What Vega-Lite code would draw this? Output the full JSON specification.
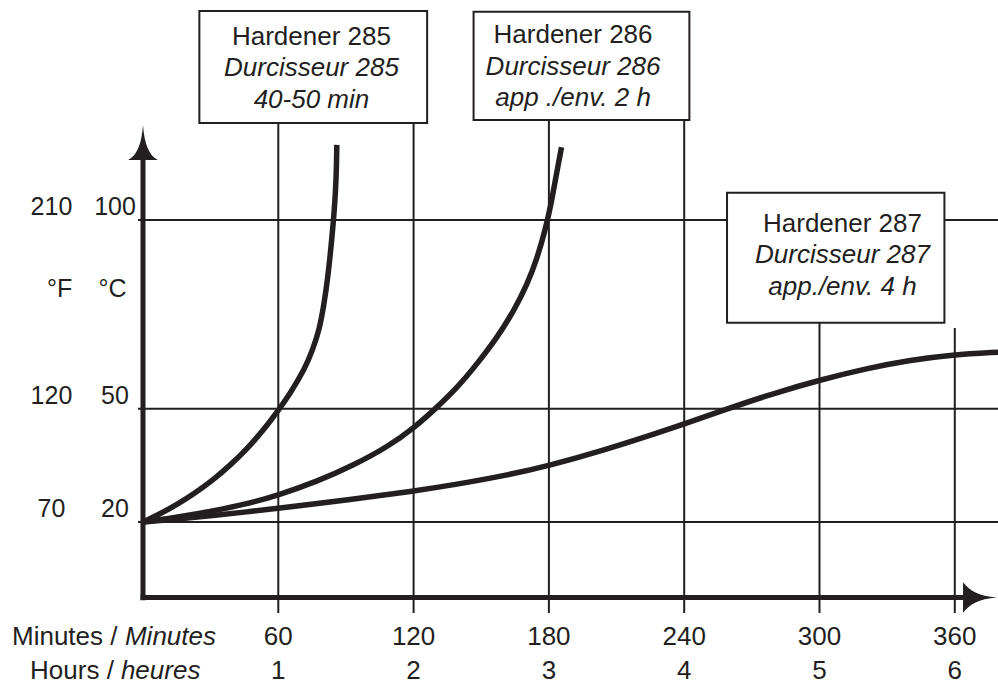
{
  "$schema": "https://vega.github.io/schema/vega-lite/v6.json",
  "width": 998,
  "height": 686,
  "padding": 0,
  "autosize": {"type": "none"},
  "background": "#ffffff",
  "config": {
    "view": {"stroke": null},
    "text": {"font": "Liberation Sans", "fontSize": 26, "fill": "#231f20"}
  },
  "datasets": {
    "curves": [
      {"hardener": "285", "minutes": 0, "temp": 20},
      {"hardener": "285", "minutes": 7.7, "temp": 22.2},
      {"hardener": "285", "minutes": 15.4, "temp": 24.7},
      {"hardener": "285", "minutes": 23.1, "temp": 27.7},
      {"hardener": "285", "minutes": 30.8, "temp": 31.0},
      {"hardener": "285", "minutes": 38.4, "temp": 34.9},
      {"hardener": "285", "minutes": 46.2, "temp": 39.4},
      {"hardener": "285", "minutes": 53.9, "temp": 44.7},
      {"hardener": "285", "minutes": 60, "temp": 49.6},
      {"hardener": "285", "minutes": 64.8, "temp": 53.6},
      {"hardener": "285", "minutes": 71.9, "temp": 60.7},
      {"hardener": "285", "minutes": 75.2, "temp": 65.6},
      {"hardener": "285", "minutes": 78.2, "temp": 70.9},
      {"hardener": "285", "minutes": 80.2, "temp": 77.5},
      {"hardener": "285", "minutes": 81.9, "temp": 84.1},
      {"hardener": "285", "minutes": 84.6, "temp": 100.0},
      {"hardener": "285", "minutes": 85.7, "temp": 110.6},
      {"hardener": "285", "minutes": 85.95, "temp": 119.9},
      {"hardener": "286", "minutes": 0, "temp": 20},
      {"hardener": "286", "minutes": 15.4, "temp": 21.3},
      {"hardener": "286", "minutes": 30.8, "temp": 22.9},
      {"hardener": "286", "minutes": 46.2, "temp": 24.8},
      {"hardener": "286", "minutes": 60, "temp": 27.1},
      {"hardener": "286", "minutes": 77.5, "temp": 30.8},
      {"hardener": "286", "minutes": 93.3, "temp": 35.0},
      {"hardener": "286", "minutes": 109.0, "temp": 40.1},
      {"hardener": "286", "minutes": 120.3, "temp": 45.0},
      {"hardener": "286", "minutes": 129.7, "temp": 50.0},
      {"hardener": "286", "minutes": 139.4, "temp": 55.6},
      {"hardener": "286", "minutes": 148.2, "temp": 61.9},
      {"hardener": "286", "minutes": 157.1, "temp": 68.9},
      {"hardener": "286", "minutes": 164.4, "temp": 75.9},
      {"hardener": "286", "minutes": 170.3, "temp": 82.8},
      {"hardener": "286", "minutes": 174.7, "temp": 89.7},
      {"hardener": "286", "minutes": 178.4, "temp": 97.4},
      {"hardener": "286", "minutes": 180.9, "temp": 104.0},
      {"hardener": "286", "minutes": 182.6, "temp": 109.8},
      {"hardener": "286", "minutes": 185.6, "temp": 119.3},
      {"hardener": "287", "minutes": 0, "temp": 20},
      {"hardener": "287", "minutes": 15.4, "temp": 20.8},
      {"hardener": "287", "minutes": 30.8, "temp": 21.7},
      {"hardener": "287", "minutes": 46.2, "temp": 22.7},
      {"hardener": "287", "minutes": 60, "temp": 23.6},
      {"hardener": "287", "minutes": 90, "temp": 25.8},
      {"hardener": "287", "minutes": 120.3, "temp": 28.2},
      {"hardener": "287", "minutes": 139.4, "temp": 30.0},
      {"hardener": "287", "minutes": 161.5, "temp": 32.4},
      {"hardener": "287", "minutes": 179.8, "temp": 34.9},
      {"hardener": "287", "minutes": 203.8, "temp": 38.9},
      {"hardener": "287", "minutes": 229.2, "temp": 43.8},
      {"hardener": "287", "minutes": 240.2, "temp": 46.0},
      {"hardener": "287", "minutes": 257.8, "temp": 49.7},
      {"hardener": "287", "minutes": 279.7, "temp": 54.1},
      {"hardener": "287", "minutes": 300.6, "temp": 57.7},
      {"hardener": "287", "minutes": 322.0, "temp": 60.8},
      {"hardener": "287", "minutes": 339.2, "temp": 62.8},
      {"hardener": "287", "minutes": 358.9, "temp": 64.3},
      {"hardener": "287", "minutes": 379.5, "temp": 65.0}
    ],
    "ticks": [
      {"minutes": 60, "hours": 1},
      {"minutes": 120, "hours": 2},
      {"minutes": 180, "hours": 3},
      {"minutes": 240, "hours": 4},
      {"minutes": 300, "hours": 5},
      {"minutes": 360, "hours": 6}
    ],
    "levels": [
      {"celsius": 20, "fahrenheit": 70},
      {"celsius": 50, "fahrenheit": 120},
      {"celsius": 100, "fahrenheit": 210}
    ],
    "boxes": [
      {"hardener": "285", "start": 25, "end": 126, "low": 125.7, "high": 155.36, "center": 74.7, "baseline": 146.4, "title": "Hardener 285", "name": "Durcisseur 285", "potLife": "40-50 min"},
      {"hardener": "286", "start": 146.6, "end": 242.3, "low": 126.49, "high": 155.18, "center": 190.7, "baseline": 146.8, "title": "Hardener 286", "name": "Durcisseur 286", "potLife": "app ./env. 2 h"},
      {"hardener": "287", "start": 259, "end": 355.4, "low": 72.79, "high": 107.23, "center": 310.2, "baseline": 96.9, "title": "Hardener 287", "name": "Durcisseur 287", "potLife": "app./env. 4 h"}
    ]
  },
  "layer": [
    {
      "data": {"name": "levels"},
      "mark": {"type": "rule", "stroke": "#231f20", "strokeWidth": 2},
      "encoding": {
        "y": {"field": "celsius", "type": "quantitative", "scale": {"domain": [-23.44, 158.28], "nice": false, "zero": false}, "axis": null},
        "x": {"datum": -2.2, "type": "quantitative", "scale": {"domain": [-63.41, 379.16], "nice": false, "zero": false}, "axis": null},
        "x2": {"datum": 381}
      }
    },
    {
      "data": {"name": "ticks"},
      "transform": [{"filter": "datum.minutes <= 240"}],
      "mark": {"type": "rule", "stroke": "#231f20", "strokeWidth": 2},
      "encoding": {
        "x": {"field": "minutes", "type": "quantitative", "scale": {"domain": [-63.41, 379.16], "nice": false, "zero": false}, "axis": null},
        "y": {"datum": -4.1, "type": "quantitative", "scale": {"domain": [-23.44, 158.28], "nice": false, "zero": false}, "axis": null},
        "y2": {"datum": 130}
      }
    },
    {
      "data": {"name": "ticks"},
      "transform": [{"filter": "datum.minutes == 300"}],
      "mark": {"type": "rule", "stroke": "#231f20", "strokeWidth": 2},
      "encoding": {
        "x": {"field": "minutes", "type": "quantitative", "scale": {"domain": [-63.41, 379.16], "nice": false, "zero": false}, "axis": null},
        "y": {"datum": -4.1, "type": "quantitative", "scale": {"domain": [-23.44, 158.28], "nice": false, "zero": false}, "axis": null},
        "y2": {"datum": 75}
      }
    },
    {
      "data": {"name": "ticks"},
      "transform": [{"filter": "datum.minutes == 360"}],
      "mark": {"type": "rule", "stroke": "#231f20", "strokeWidth": 2},
      "encoding": {
        "x": {"field": "minutes", "type": "quantitative", "scale": {"domain": [-63.41, 379.16], "nice": false, "zero": false}, "axis": null},
        "y": {"datum": -4.1, "type": "quantitative", "scale": {"domain": [-23.44, 158.28], "nice": false, "zero": false}, "axis": null},
        "y2": {"datum": 71.4}
      }
    },
    {
      "data": {"name": "curves"},
      "mark": {"type": "line", "stroke": "#231f20", "strokeWidth": 5.5, "interpolate": "basis", "strokeCap": "butt", "strokeJoin": "round"},
      "encoding": {
        "x": {"field": "minutes", "type": "quantitative", "scale": {"domain": [-63.41, 379.16], "nice": false, "zero": false}, "axis": null},
        "y": {"field": "temp", "type": "quantitative", "scale": {"domain": [-23.44, 158.28], "nice": false, "zero": false}, "axis": null},
        "detail": {"field": "hardener", "type": "nominal"}
      }
    },
    {
      "data": {"values": [{}]},
      "mark": {"type": "rule", "stroke": "#231f20", "strokeWidth": 5},
      "encoding": {
        "x": {"datum": 0, "type": "quantitative", "scale": {"domain": [-63.41, 379.16], "nice": false, "zero": false}, "axis": null},
        "y": {"datum": -0.7, "type": "quantitative", "scale": {"domain": [-23.44, 158.28], "nice": false, "zero": false}, "axis": null},
        "y2": {"datum": 117}
      }
    },
    {
      "data": {"values": [{}]},
      "mark": {"type": "rule", "stroke": "#231f20", "strokeWidth": 5},
      "encoding": {
        "x": {"datum": -1.1, "type": "quantitative", "scale": {"domain": [-63.41, 379.16], "nice": false, "zero": false}, "axis": null},
        "x2": {"datum": 365},
        "y": {"datum": 0, "type": "quantitative", "scale": {"domain": [-23.44, 158.28], "nice": false, "zero": false}, "axis": null}
      }
    },
    {
      "data": {"values": [{}]},
      "mark": {"type": "point", "filled": true, "fill": "#231f20", "stroke": null, "opacity": 1, "size": 1225, "shape": "M0,-1C0.08,0.1 0.35,0.75 0.85,1L-0.85,1C-0.35,0.75 -0.08,0.1 0,-1Z"},
      "encoding": {
        "x": {"datum": 0, "type": "quantitative", "scale": {"domain": [-63.41, 379.16], "nice": false, "zero": false}, "axis": null},
        "y": {"datum": 120.5, "type": "quantitative", "scale": {"domain": [-23.44, 158.28], "nice": false, "zero": false}, "axis": null}
      }
    },
    {
      "data": {"values": [{}]},
      "mark": {"type": "point", "filled": true, "fill": "#231f20", "stroke": null, "opacity": 1, "size": 1156, "shape": "M1,0C-0.1,0.08 -0.6,0.4 -1,0.9L-1,-0.9C-0.6,-0.4 -0.1,-0.08 1,0Z"},
      "encoding": {
        "x": {"datum": 371.2, "type": "quantitative", "scale": {"domain": [-63.41, 379.16], "nice": false, "zero": false}, "axis": null},
        "y": {"datum": 0, "type": "quantitative", "scale": {"domain": [-23.44, 158.28], "nice": false, "zero": false}, "axis": null}
      }
    },
    {
      "data": {"name": "boxes"},
      "mark": {"type": "rect", "fill": "#ffffff", "stroke": "#231f20", "strokeWidth": 2},
      "encoding": {
        "x": {"field": "start", "type": "quantitative", "scale": {"domain": [-63.41, 379.16], "nice": false, "zero": false}, "axis": null},
        "x2": {"field": "end"},
        "y": {"field": "low", "type": "quantitative", "scale": {"domain": [-23.44, 158.28], "nice": false, "zero": false}, "axis": null},
        "y2": {"field": "high"}
      }
    },
    {
      "data": {"name": "boxes"},
      "mark": {"type": "text", "align": "center", "baseline": "alphabetic"},
      "encoding": {
        "x": {"field": "center", "type": "quantitative", "scale": {"domain": [-63.41, 379.16], "nice": false, "zero": false}, "axis": null},
        "y": {"field": "baseline", "type": "quantitative", "scale": {"domain": [-23.44, 158.28], "nice": false, "zero": false}, "axis": null},
        "text": {"field": "title", "type": "nominal"}
      }
    },
    {
      "data": {"name": "boxes"},
      "mark": {"type": "text", "align": "center", "baseline": "alphabetic", "fontStyle": "italic", "dy": 31.5},
      "encoding": {
        "x": {"field": "center", "type": "quantitative", "scale": {"domain": [-63.41, 379.16], "nice": false, "zero": false}, "axis": null},
        "y": {"field": "baseline", "type": "quantitative", "scale": {"domain": [-23.44, 158.28], "nice": false, "zero": false}, "axis": null},
        "text": {"field": "name", "type": "nominal"}
      }
    },
    {
      "data": {"name": "boxes"},
      "mark": {"type": "text", "align": "center", "baseline": "alphabetic", "fontStyle": "italic", "dy": 63},
      "encoding": {
        "x": {"field": "center", "type": "quantitative", "scale": {"domain": [-63.41, 379.16], "nice": false, "zero": false}, "axis": null},
        "y": {"field": "baseline", "type": "quantitative", "scale": {"domain": [-23.44, 158.28], "nice": false, "zero": false}, "axis": null},
        "text": {"field": "potLife", "type": "nominal"}
      }
    },
    {
      "data": {"name": "ticks"},
      "mark": {"type": "text", "align": "center", "baseline": "alphabetic"},
      "encoding": {
        "x": {"field": "minutes", "type": "quantitative", "scale": {"domain": [-63.41, 379.16], "nice": false, "zero": false}, "axis": null},
        "y": {"datum": -12.6, "type": "quantitative", "scale": {"domain": [-23.44, 158.28], "nice": false, "zero": false}, "axis": null},
        "text": {"field": "minutes", "type": "nominal"}
      }
    },
    {
      "data": {"name": "ticks"},
      "mark": {"type": "text", "align": "center", "baseline": "alphabetic"},
      "encoding": {
        "x": {"field": "minutes", "type": "quantitative", "scale": {"domain": [-63.41, 379.16], "nice": false, "zero": false}, "axis": null},
        "y": {"datum": -21.7, "type": "quantitative", "scale": {"domain": [-23.44, 158.28], "nice": false, "zero": false}, "axis": null},
        "text": {"field": "hours", "type": "nominal"}
      }
    },
    {
      "data": {"name": "levels"},
      "mark": {"type": "text", "align": "center", "baseline": "alphabetic", "dy": -5, "fontSize": 25},
      "encoding": {
        "x": {"datum": -12.4, "type": "quantitative", "scale": {"domain": [-63.41, 379.16], "nice": false, "zero": false}, "axis": null},
        "y": {"field": "celsius", "type": "quantitative", "scale": {"domain": [-23.44, 158.28], "nice": false, "zero": false}, "axis": null},
        "text": {"field": "celsius", "type": "nominal"}
      }
    },
    {
      "data": {"name": "levels"},
      "mark": {"type": "text", "align": "center", "baseline": "alphabetic", "dy": -5, "fontSize": 25},
      "encoding": {
        "x": {"datum": -40.6, "type": "quantitative", "scale": {"domain": [-63.41, 379.16], "nice": false, "zero": false}, "axis": null},
        "y": {"field": "celsius", "type": "quantitative", "scale": {"domain": [-23.44, 158.28], "nice": false, "zero": false}, "axis": null},
        "text": {"field": "fahrenheit", "type": "nominal"}
      }
    },
    {
      "data": {"values": [{}]},
      "mark": {"type": "text", "align": "center", "baseline": "alphabetic", "fontSize": 25, "text": "°F"},
      "encoding": {
        "x": {"datum": -37.0, "type": "quantitative", "scale": {"domain": [-63.41, 379.16], "nice": false, "zero": false}, "axis": null},
        "y": {"datum": 79.7, "type": "quantitative", "scale": {"domain": [-23.44, 158.28], "nice": false, "zero": false}, "axis": null}
      }
    },
    {
      "data": {"values": [{}]},
      "mark": {"type": "text", "align": "center", "baseline": "alphabetic", "fontSize": 25, "text": "°C"},
      "encoding": {
        "x": {"datum": -13.5, "type": "quantitative", "scale": {"domain": [-63.41, 379.16], "nice": false, "zero": false}, "axis": null},
        "y": {"datum": 79.7, "type": "quantitative", "scale": {"domain": [-23.44, 158.28], "nice": false, "zero": false}, "axis": null}
      }
    },
    {
      "data": {"values": [{}]},
      "mark": {"type": "text", "align": "right", "baseline": "alphabetic", "text": "Minutes /"},
      "encoding": {
        "x": {"datum": -11.3, "type": "quantitative", "scale": {"domain": [-63.41, 379.16], "nice": false, "zero": false}, "axis": null},
        "y": {"datum": -12.6, "type": "quantitative", "scale": {"domain": [-23.44, 158.28], "nice": false, "zero": false}, "axis": null}
      }
    },
    {
      "data": {"values": [{}]},
      "mark": {"type": "text", "align": "left", "baseline": "alphabetic", "fontStyle": "italic", "text": "Minutes"},
      "encoding": {
        "x": {"datum": -8.0, "type": "quantitative", "scale": {"domain": [-63.41, 379.16], "nice": false, "zero": false}, "axis": null},
        "y": {"datum": -12.6, "type": "quantitative", "scale": {"domain": [-23.44, 158.28], "nice": false, "zero": false}, "axis": null}
      }
    },
    {
      "data": {"values": [{}]},
      "mark": {"type": "text", "align": "right", "baseline": "alphabetic", "text": "Hours /"},
      "encoding": {
        "x": {"datum": -12.9, "type": "quantitative", "scale": {"domain": [-63.41, 379.16], "nice": false, "zero": false}, "axis": null},
        "y": {"datum": -21.7, "type": "quantitative", "scale": {"domain": [-23.44, 158.28], "nice": false, "zero": false}, "axis": null}
      }
    },
    {
      "data": {"values": [{}]},
      "mark": {"type": "text", "align": "left", "baseline": "alphabetic", "fontStyle": "italic", "text": "heures"},
      "encoding": {
        "x": {"datum": -9.8, "type": "quantitative", "scale": {"domain": [-63.41, 379.16], "nice": false, "zero": false}, "axis": null},
        "y": {"datum": -21.7, "type": "quantitative", "scale": {"domain": [-23.44, 158.28], "nice": false, "zero": false}, "axis": null}
      }
    }
  ]
}
